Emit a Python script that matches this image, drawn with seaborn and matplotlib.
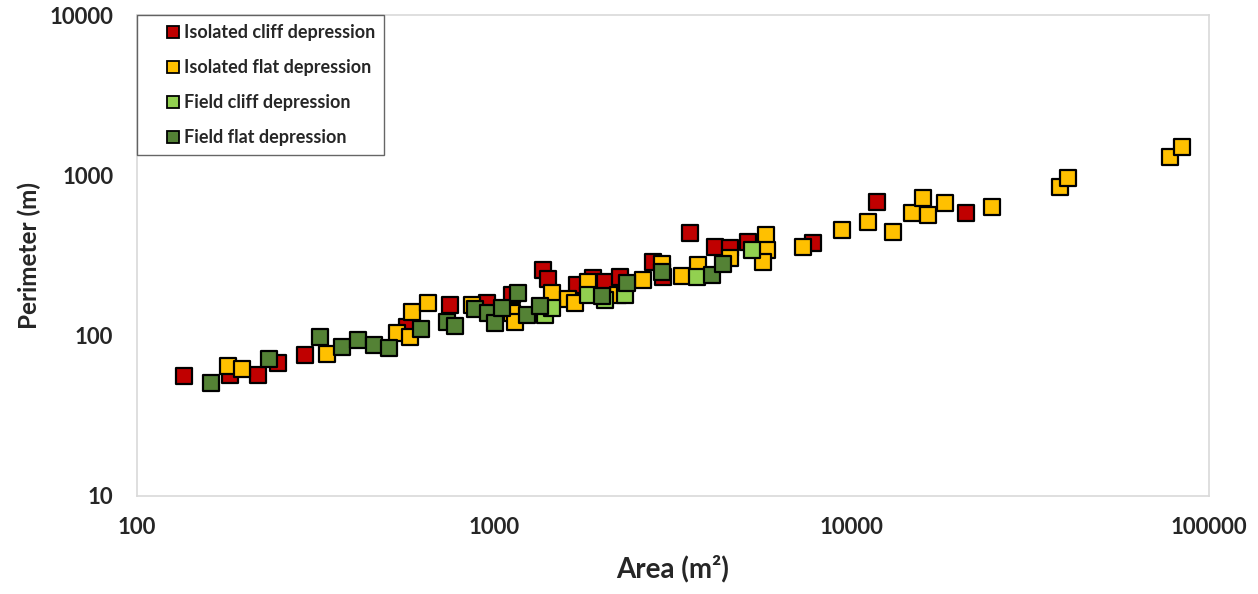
import matplotlib
matplotlib.use('Agg')
import matplotlib.pyplot as plt
from matplotlib.lines import Line2D
from matplotlib.ticker import FixedLocator, FixedFormatter, NullLocator
import numpy as np
import pandas as pd
import seaborn as sns

# values (area in m2, perimeter in m)
iso_cliff_area = [135, 182, 218, 248, 295, 570, 752, 955, 1120, 1370, 1415, 1705, 1890,
                  2040, 2250, 2780, 2960, 3530, 4150, 4570, 5130, 7800, 11800, 20900]
iso_cliff_perim = [56, 57, 57, 68, 76, 114, 155, 160, 180, 257, 226, 207, 229,
                   216, 232, 290, 232, 437, 357, 350, 384, 378, 680, 583]

iso_flat_area = [180, 197, 340, 534, 580, 588, 652, 866, 1120, 1143, 1450, 1610, 1680,
                 1830, 2220, 2610, 2950, 3350, 3720, 4570, 5760, 5800, 5650, 7310,
                 9400, 11100, 13050, 14750, 15850, 16350, 18250, 24700, 38300, 40300,
                 77800, 84000]
iso_flat_perim = [65, 62, 77, 104, 98, 140, 160, 155, 139, 122, 185, 170, 160,
                  216, 179, 222, 280, 236, 276, 305, 425, 342, 290, 357,
                  456, 512, 444, 583, 722, 566, 673, 635, 847, 963,
                  1300, 1500]

field_cliff_area = [1390, 1450, 1830, 2040, 2320, 3690, 5260]
field_cliff_perim = [135, 149, 180, 167, 180, 232, 342]

field_flat_area = [161, 234, 325, 375, 415, 460, 507, 623, 737, 776, 883, 960, 1005,
                   1050, 1165, 1235, 1340, 2000, 2350, 2950, 4070, 4370]
field_flat_perim = [51, 72, 98, 85, 94, 87, 84, 110, 122, 115, 147, 139, 120,
                    149, 185, 135, 153, 177, 213, 250, 239, 280]

groups = ['Isolated cliff depression', 'Isolated flat depression',
          'Field cliff depression', 'Field flat depression']
colors = ['#C00000', '#FFC000', '#92D050', '#548235']

df = pd.concat([
    pd.DataFrame({'area': iso_cliff_area, 'perim': iso_cliff_perim, 'type': groups[0]}),
    pd.DataFrame({'area': iso_flat_area, 'perim': iso_flat_perim, 'type': groups[1]}),
    pd.DataFrame({'area': field_cliff_area, 'perim': field_cliff_perim, 'type': groups[2]}),
    pd.DataFrame({'area': field_flat_area, 'perim': field_flat_perim, 'type': groups[3]}),
], ignore_index=True)

sns.set_style('white')
plt.rcParams['font.family'] = ['Lato', 'DejaVu Sans']

fig = plt.figure(figsize=(12.58, 5.94), dpi=100)
ax = fig.add_axes([137 / 1258, 98 / 594, 1072 / 1258, 481 / 594])

# draw group by group so later groups sit on top
for g, c in zip(groups, colors):
    sns.scatterplot(data=df[df['type'] == g], x='area', y='perim', marker='s',
                    color=c, s=135, edgecolor='black', linewidth=1.6, ax=ax,
                    legend=False, zorder=3)

ax.set_xscale('log')
ax.set_yscale('log')
ax.set_xlim(100, 100000)
ax.set_ylim(10, 10000)

xt = [100, 1000, 10000, 100000]
yt = [10, 100, 1000, 10000]
ax.xaxis.set_major_locator(FixedLocator(xt))
ax.xaxis.set_major_formatter(FixedFormatter([str(v) for v in xt]))
ax.yaxis.set_major_locator(FixedLocator(yt))
ax.yaxis.set_major_formatter(FixedFormatter([str(v) for v in yt]))
ax.xaxis.set_minor_locator(NullLocator())
ax.yaxis.set_minor_locator(NullLocator())
ax.tick_params(axis='x', length=0, pad=15, labelsize=16)
ax.tick_params(axis='y', length=0, pad=17, labelsize=16)
for lab in ax.get_xticklabels() + ax.get_yticklabels():
    lab.set_fontweight('bold')

for sp in ax.spines.values():
    sp.set_color('#D9D9D9')
    sp.set_linewidth(1.2)

ax.set_xlabel('Area (m²)', fontsize=20, fontweight='bold', labelpad=12)
ax.set_ylabel('Perimeter (m)', fontsize=17.5, fontweight='bold', labelpad=6)

handles = [Line2D([], [], marker='s', linestyle='none', markersize=8,
                  markerfacecolor=c, markeredgecolor='black', markeredgewidth=1.3)
           for c in colors]
leg = ax.legend(handles, groups, loc='upper left', bbox_to_anchor=(0, 1),
                borderaxespad=0, frameon=True, fancybox=False,
                prop={'weight': 'bold', 'size': 13}, labelspacing=1.0,
                handlelength=3.0, handletextpad=-0.9, borderpad=0.5)
leg.get_frame().set_edgecolor('#404040')
leg.get_frame().set_linewidth(1.0)

plt.savefig('out.png', dpi=100)
